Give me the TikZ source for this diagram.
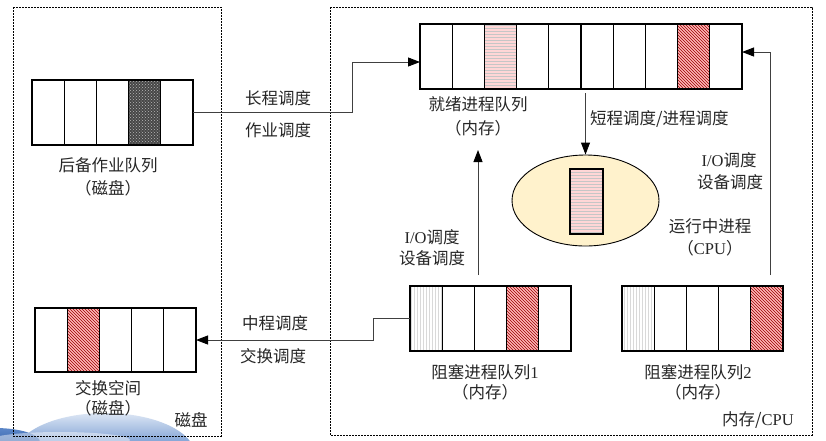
\documentclass[tikz,border=0pt]{standalone}
\usepackage{fontspec}
\setmainfont{Liberation Serif}
\newfontfamily\cjk{Noto Sans CJK SC}
\usetikzlibrary{calc,patterns,arrows.meta,shapes.geometric}
\definecolor{cream}{HTML}{FFF2CC}
\definecolor{blobtop}{HTML}{DCE6F4}
\definecolor{blobmid}{HTML}{5B86C8}
\definecolor{blobbot}{HTML}{1E4C98}
\tikzset{
  qbox/.style={draw=none,fill=white,inner sep=0pt,outer sep=0pt},
  qline/.style={line width=1.3pt,black},
  zone/.style={line width=1pt,dash pattern=on 1.6pt off 1.4pt,black},
  conn/.style={line width=0.9pt,black!75,-{Triangle[length=12pt,width=9pt,fill=black,color=black]}},
  lbl/.style={text=black!85,inner sep=0pt,font=\fontsize{16.5}{19}\selectfont},
  redhatch/.style={preaction={fill=red!28},pattern=north west lines,pattern color=red!60!black},
  darkhatch/.style={preaction={fill=black!72},pattern=crosshatch dots,pattern color=gray!55},
  pinkstripe/.style={preaction={fill=red!16},pattern=horizontal lines,pattern color=gray!45},
  graystripe/.style={preaction={fill=white},pattern=vertical lines,pattern color=gray!30},
}
\newcommand\qcell[4]{%
  \pgfmathsetmacro\qa{(#2-1)/#3}\pgfmathsetmacro\qb{#2/#3}%
  \path[#4] ($(#1.south west)!\qa!(#1.south east)$) rectangle ($(#1.north west)!\qb!(#1.north east)$);}
\newcommand\qlines[3]{%
  \foreach \i in {1,...,#3}{\pgfmathsetmacro\qf{\i/#2}%
    \draw[qline] ($(#1.south west)!\qf!(#1.south east)$) -- ($(#1.north west)!\qf!(#1.north east)$);}%
  \draw[qline] (#1.south west) rectangle (#1.north east);}
\begin{document}
\begin{tikzpicture}[x=1pt,y=-1pt]
\useasboundingbox (0,0) rectangle (826,440);
\fill[white] (0,0) rectangle (826,440);
% decorative blue blob
\begin{scope}
\clip (0,0) rectangle (826,440);
\shade[top color=blobtop,bottom color=blobbot,middle color=blobmid] (105,455) ellipse [x radius=90,y radius=42];
\shade[top color=blobmid,bottom color=blobbot] (-5,442) ellipse [x radius=45,y radius=14];
\fill[white,opacity=0.45] (60,440) ellipse [x radius=70,y radius=8];
\end{scope}
% zones
\draw[zone] (13,7) rectangle (221,436);
\draw[zone] (330,7) rectangle (812,435);
\node[lbl] (zdisk) at (191,420) {\cjk 磁盘};
\node[lbl] (zmem) at (758,420) {\cjk 内存/\rmfamily CPU};
% backup queue
\node[qbox,minimum width=161pt,minimum height=65pt] (backup) at (112.5,112.5) {};
\qcell{backup}{4}{5}{darkhatch}
\qlines{backup}{5}{4}
\node[lbl] (backupl) at (108,165) {\cjk 后备作业队列};
\node[lbl] (backupl2) at (108,188) {\cjk （磁盘）};
% swap queue
\node[qbox,minimum width=161pt,minimum height=64pt] (swap) at (115.5,340) {};
\qcell{swap}{2}{5}{redhatch}
\qlines{swap}{5}{4}
\node[lbl] (swapl) at (108,388) {\cjk 交换空间};
\node[lbl] (swapl2) at (108,408) {\cjk （磁盘）};
% ready queue
\node[qbox,minimum width=322pt,minimum height=65pt] (ready) at (581,56.5) {};
\qcell{ready}{3}{10}{pinkstripe}
\qcell{ready}{9}{10}{redhatch}
\qlines{ready}{10}{9}
\node[lbl] (readyl) at (478,104) {\cjk 就绪进程队列};
\node[lbl] (readyl2) at (478,128) {\cjk （内存）};
% blocked queue 1
\node[qbox,minimum width=161pt,minimum height=65pt] (blk1) at (490.5,318.5) {};
\qcell{blk1}{1}{5}{graystripe}
\qcell{blk1}{4}{5}{redhatch}
\qlines{blk1}{5}{4}
\node[lbl] (blk1l) at (485,372) {\cjk 阻塞进程队列\rmfamily 1};
\node[lbl] (blk1l2) at (485,392) {\cjk （内存）};
% blocked queue 2
\node[qbox,minimum width=161pt,minimum height=65pt] (blk2) at (702.5,318.5) {};
\qcell{blk2}{1}{5}{graystripe}
\qcell{blk2}{5}{5}{redhatch}
\qlines{blk2}{5}{4}
\node[lbl] (blk2l) at (698,372) {\cjk 阻塞进程队列\rmfamily 2};
\node[lbl] (blk2l2) at (698,392) {\cjk （内存）};
% CPU ellipse
\node[draw,line width=0.9pt,fill=cream,ellipse,minimum width=147pt,minimum height=91pt,inner sep=0pt] (cpu) at (585.5,200.5) {};
\node[draw,line width=1.3pt,pinkstripe,minimum width=33pt,minimum height=65pt,inner sep=0pt] (run) at (586.5,201.5) {};
\node[lbl] (cpul) at (710,226) {\cjk 运行中进程};
\node[lbl] (cpul2) at (710,248) {\cjk （\rmfamily CPU\cjk ）};
% long-term scheduling
\coordinate (lt) at (352,112.5);
\draw[conn] (backup.east) -- (lt) |- ([yshift=-5.5pt]ready.west);
\node[lbl] (ltl1) at (278,98) {\cjk 长程调度};
\node[lbl] (ltl2) at (278,130) {\cjk 作业调度};
% short-term scheduling
\draw[conn] ([yshift=-4pt]ready.south -| cpu.north) -- (cpu.north);
\node[lbl,anchor=west] (stl) at (590,119) {\cjk 短程调度/进程调度};
% I/O from blocked 2
\coordinate (io2) at (770,275);
\draw[conn] (io2) |- ([yshift=4.5pt]ready.east);
\node[lbl] (io2l1) at (729,160) {\rmfamily I/O\cjk 调度};
\node[lbl] (io2l2) at (730,182) {\cjk 设备调度};
% I/O from blocked 1
\coordinate (io1a) at (478,275);
\coordinate (io1b) at (478,150);
\draw[conn] (io1a) -- (io1b);
\node[lbl] (io1l1) at (432,237) {\rmfamily I/O\cjk 调度};
\node[lbl] (io1l2) at (432,258) {\cjk 设备调度};
% mid-term scheduling
\coordinate (mt) at (373,318.5);
\draw[conn] (blk1.west) -- (mt) |- (swap.east);
\node[lbl] (mtl1) at (275,323) {\cjk 中程调度};
\node[lbl] (mtl2) at (273,356) {\cjk 交换调度};
\end{tikzpicture}
\end{document}
